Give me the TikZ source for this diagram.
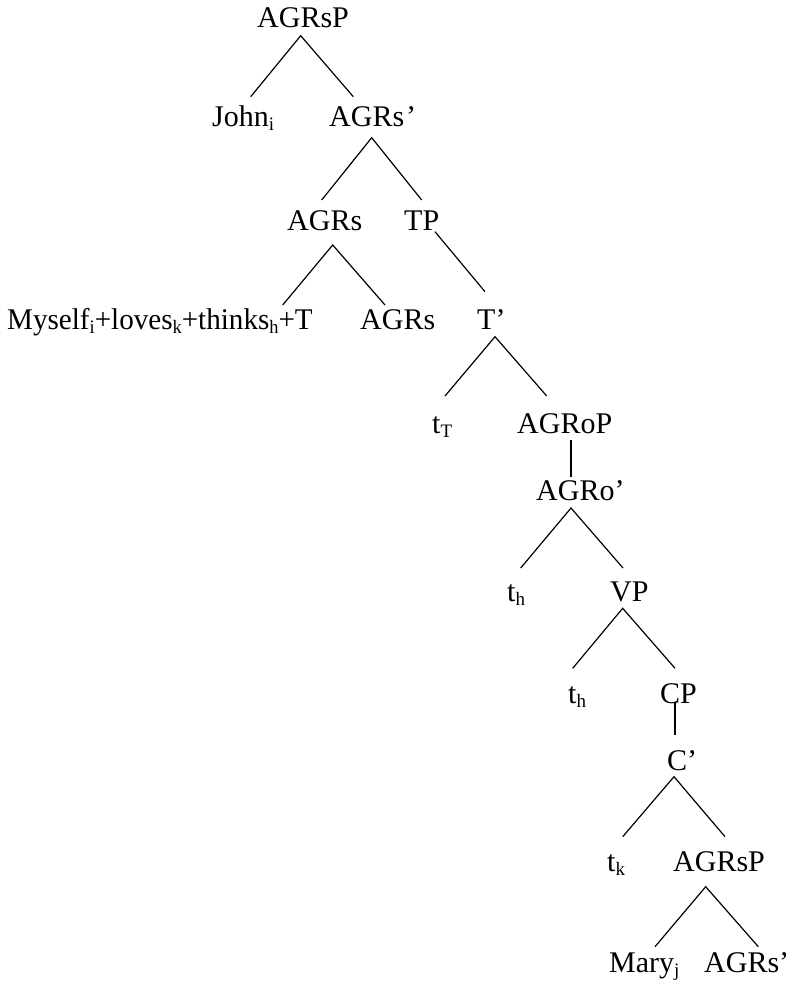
\documentclass[tikz,border=0pt]{standalone}
\usepackage{fontspec}
\setmainfont{Liberation Serif}
\newcommand\sbs[1]{\raisebox{-4.5pt}{\fontsize{19}{21}\selectfont #1}}
\begin{document}
\begin{tikzpicture}[x=1pt,y=-1pt,
  lbl/.style={inner sep=0pt, anchor=base west, font=\fontsize{30}{34}\selectfont},
  edge/.style={line width=1.2pt}]
\useasboundingbox (0,0) rectangle (790,982);
% nodes
\node[lbl] (agrsp) at (257,28) {AGRsP};
\node[lbl] (john) at (212,126) {John\sbs{i}};
\node[lbl] (agrsbar) at (329,126) {AGRs\kern2pt’};
\node[lbl] (agrs) at (287,230) {AGRs};
\node[lbl] (tp) at (404,230) {TP};
\node[lbl] (myself) at (7,329) {\scalebox{0.97}[1]{Myself\sbs{i}+loves\sbs{k}+thinks\sbs{h}+T}};
\node[lbl] (agrs2) at (360,329) {AGRs};
\node[lbl] (tbar) at (477,329) {T’};
\node[lbl] (tt) at (432,433) {t\sbs{T}};
\node[lbl] (agrop) at (517,433) {AGRoP};
\node[lbl] (agrobar) at (536,500) {AGRo’};
\node[lbl] (th1) at (507,601) {t\sbs{h}};
\node[lbl] (vp) at (610,601) {VP};
\node[lbl] (th2) at (568,703) {t\sbs{h}};
\node[lbl] (cp) at (660,703) {CP};
\node[lbl] (cbar) at (667,770) {C’};
\node[lbl] (tk) at (607,871) {t\sbs{k}};
\node[lbl] (agrsp2) at (673,871) {AGRsP};
\node[lbl] (mary) at (609,972) {Mary\sbs{j}};
\node[lbl] (agrsbar2) at (704,972) {AGRs’};
% connector end points
\coordinate (agrsp-b) at (300.7,35.7);
\coordinate (john-t) at (250.7,96.7);
\coordinate (agrsbar-t) at (353.3,96.7);
\coordinate (agrsbar-b) at (371.7,137.7);
\coordinate (agrs-t) at (321.7,200);
\coordinate (tp-t) at (421.7,200);
\coordinate (agrs-b) at (332.7,245);
\coordinate (myself-t) at (282.7,305);
\coordinate (agrs2-t) at (385,305);
\coordinate (tp-b) at (435,231.7);
\coordinate (tbar-t) at (485,291.7);
\coordinate (tbar-b) at (495,336.7);
\coordinate (tt-t) at (445,396);
\coordinate (agrop-t) at (546.7,396);
\coordinate (agrop-b) at (571,440);
\coordinate (agrobar-t) at (571,476.7);
\coordinate (agrobar-b) at (571,508);
\coordinate (th1-t) at (520.7,568);
\coordinate (vp-t) at (623,568);
\coordinate (vp-b) at (622.7,608.3);
\coordinate (th2-t) at (572.7,668.3);
\coordinate (cp-t) at (675,668.3);
\coordinate (cp-b) at (675,701.7);
\coordinate (cbar-t) at (675,735);
\coordinate (cbar-b) at (674,776.7);
\coordinate (tk-t) at (622.7,836.7);
\coordinate (agrsp2-t) at (725,836.7);
\coordinate (agrsp2-b) at (705.7,886.7);
\coordinate (mary-t) at (655,946.7);
\coordinate (agrsbar2-t) at (758.3,946.7);
% connectors
\draw[edge] (john-t) -- (agrsp-b) -- (agrsbar-t);
\draw[edge] (agrs-t) -- (agrsbar-b) -- (tp-t);
\draw[edge] (myself-t) -- (agrs-b) -- (agrs2-t);
\draw[edge] (tp-b) -- (tbar-t);
\draw[edge] (tt-t) -- (tbar-b) -- (agrop-t);
\draw[edge] (agrop-b) -- (agrobar-t);
\draw[edge] (th1-t) -- (agrobar-b) -- (vp-t);
\draw[edge] (th2-t) -- (vp-b) -- (cp-t);
\draw[edge] (cp-b) -- (cbar-t);
\draw[edge] (tk-t) -- (cbar-b) -- (agrsp2-t);
\draw[edge] (mary-t) -- (agrsp2-b) -- (agrsbar2-t);
\end{tikzpicture}
\end{document}
